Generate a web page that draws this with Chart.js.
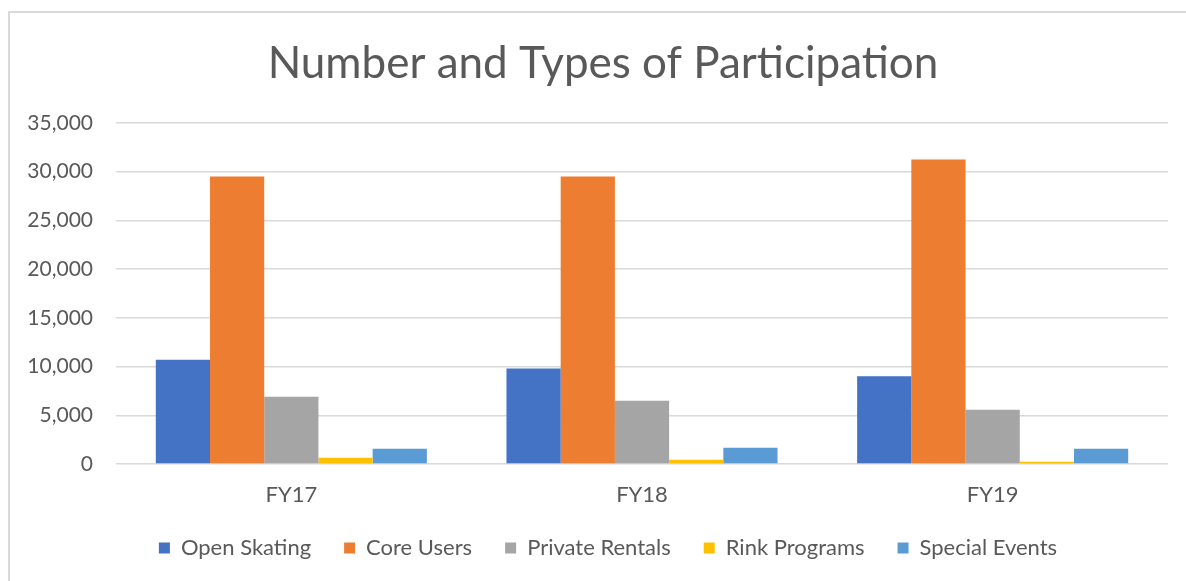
<!DOCTYPE html>
<html>
<head>
<meta charset="utf-8">
<script src="https://cdn.jsdelivr.net/npm/chart.js@4.4.1/dist/chart.umd.min.js"></script>
<style>
  html, body { margin: 0; padding: 0; background: #ffffff; overflow: hidden; }
  #frame { position: absolute; left: 8px; top: 11px; width: 1300px; height: 700px; border: 2px solid #D9D9D9; box-sizing: border-box; }
  #wrap { position: absolute; left: 0; top: 0; width: 1186px; height: 581px; }
</style>
</head>
<body>
<div id="frame"></div>
<div id="wrap"><canvas id="c" width="1186" height="581"></canvas></div>
<script>
const categories = ["FY17", "FY18", "FY19"];
const openSkating = [10700, 9800, 9000];
const coreUsers = [29500, 29500, 31250];
const privateRentals = [6900, 6500, 5580];
const rinkPrograms = [650, 440, 240];
const specialEvents = [1570, 1670, 1570];
const seriesNames = ["Open Skating", "Core Users", "Private Rentals", "Rink Programs", "Special Events"];
const yTicks = [0, 5000, 10000, 15000, 20000, 25000, 30000, 35000];
const titleText = "Number and Types of Participation";

const colors = ["#4472C4", "#ED7D31", "#A5A5A5", "#FFC000", "#5B9BD5"];
const seriesData = [openSkating, coreUsers, privateRentals, rinkPrograms, specialEvents];
const FONT = "Lato";
const TEXT = "#595959";

const blockShift = {
  id: "blockShift",
  afterUpdate(chart) {
    const lg = chart.legend;
    if (lg) { lg.left += 24; lg.right += 24; lg.top -= 4; lg.bottom -= 4; }
    const tb = chart.titleBlock;
    if (tb) { tb.left += 19; tb.right += 19; }
  }
};

const chart = new Chart(document.getElementById("c"), {
  type: "bar",
  data: {
    labels: categories,
    datasets: seriesNames.map((n, i) => ({
      label: n,
      data: seriesData[i],
      backgroundColor: colors[i],
      borderWidth: 0,
      categoryPercentage: 0.773,
      barPercentage: 1.0
    }))
  },
  options: {
    responsive: false,
    animation: false,
    devicePixelRatio: 1,
    layout: { padding: { left: 0, right: 18, top: 0, bottom: 8 } },
    plugins: {
      title: {
        display: true,
        text: titleText,
        color: TEXT,
        font: { family: FONT, size: 44, weight: "normal", lineHeight: 1.2 },
        padding: { top: 37, bottom: 33.2 }
      },
      legend: {
        position: "bottom",
        labels: {
          color: TEXT,
          font: { family: FONT, size: 22 },
          boxWidth: 11,
          boxHeight: 11,
          padding: 33
        }
      },
      tooltip: { enabled: false }
    },
    scales: {
      x: {
        grid: { display: false, drawTicks: false },
        border: { display: false },
        ticks: { color: TEXT, font: { family: FONT, size: 22, lineHeight: 1.0 }, padding: 20 },
        afterFit: (s) => { s.height = 44; }
      },
      y: {
        min: 0,
        max: 35000,
        afterBuildTicks: (s) => { s.ticks = yTicks.map(v => ({ value: v })); },
        grid: { color: "#D9D9D9", lineWidth: 1.5, drawTicks: false },
        border: { display: false },
        ticks: {
          color: TEXT,
          font: { family: FONT, size: 21 },
          padding: 23,
          callback: (v) => Number(v).toLocaleString("en-US")
        },
        afterFit: (s) => { s.width = 116; }
      }
    }
  },
  plugins: [blockShift]
});
</script>
</body>
</html>
